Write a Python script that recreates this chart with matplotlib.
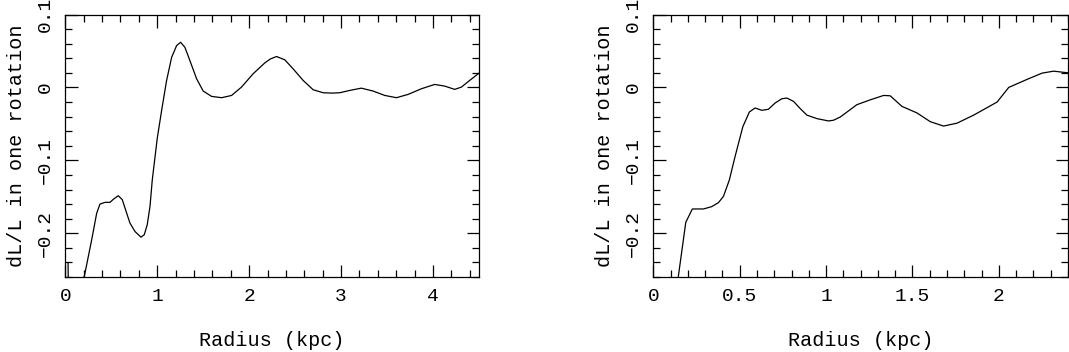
import matplotlib
matplotlib.use("Agg")
import matplotlib.pyplot as plt
from matplotlib.ticker import MultipleLocator, FixedLocator

# Left panel: dL/L vs radius (kpc)
left_r = [0.030, 0.036, 0.207, 0.287, 0.341, 0.377, 0.432, 0.486, 0.522, 0.576, 0.62, 0.656,
          0.703, 0.758, 0.823, 0.859, 0.891, 0.921, 0.946, 1.0, 1.048, 1.102, 1.157, 1.211,
          1.254, 1.301, 1.355, 1.428, 1.5, 1.591, 1.70, 1.809, 1.917, 2.043, 2.17, 2.23, 2.298,
          2.388, 2.478, 2.587, 2.696, 2.804, 2.90, 2.986, 3.095, 3.22, 3.348, 3.475, 3.602,
          3.728, 3.874, 4.018, 4.127, 4.236, 4.308, 4.399, 4.50]
left_dl = [-0.241, -0.30, -0.259, -0.209, -0.1727, -0.160, -0.1576, -0.1576, -0.1535, -0.1485,
           -0.154, -0.168, -0.186, -0.1976, -0.2054, -0.202, -0.1885, -0.1635, -0.127, -0.070,
           -0.0314, 0.0096, 0.0414, 0.0574, 0.0619, 0.055, 0.0369, 0.0119, -0.005, -0.0123,
           -0.0141, -0.011, 0.0005, 0.0187, 0.0336, 0.039, 0.0424, 0.0378, 0.0255, 0.0096,
           -0.0032, -0.0073, -0.0078, -0.0073, -0.0041, -0.001, -0.005, -0.011, -0.0141,
           -0.0096, -0.0018, 0.0041, 0.0018, -0.0027, 0.0004, 0.0096, 0.0196]

# Right panel: dL/L vs radius (kpc)
right_r = [0.145, 0.188, 0.226, 0.29, 0.338, 0.377, 0.406, 0.44, 0.473, 0.518, 0.556, 0.589,
           0.628, 0.666, 0.705, 0.744, 0.773, 0.811, 0.85, 0.889, 0.947, 1.014, 1.043, 1.082,
           1.178, 1.256, 1.333, 1.371, 1.439, 1.526, 1.603, 1.68, 1.758, 1.854, 1.99, 2.057,
           2.163, 2.25, 2.317, 2.40]
right_dl = [-0.259, -0.185, -0.1667, -0.1667, -0.1635, -0.158, -0.1494, -0.127, -0.095, -0.054,
            -0.0337, -0.0282, -0.0314, -0.030, -0.0214, -0.0155, -0.0146, -0.019, -0.029,
            -0.038, -0.0428, -0.046, -0.045, -0.0406, -0.0237, -0.017, -0.011, -0.0115, -0.026,
            -0.035, -0.047, -0.053, -0.049, -0.038, -0.020, 0.0, 0.011, 0.0196, 0.0223, 0.020]

ytick_vals = [-0.2, -0.1, 0, 0.1]
ytick_labels = ["\u22120.2", "\u22120.1", "0", "0.1"]
left_xticks = [0, 1, 2, 3, 4]
left_xlabels = ["0", "1", "2", "3", "4"]
right_xticks = [0, 0.5, 1, 1.5, 2]
right_xlabels = ["0", "0.5", "1", "1.5", "2"]

plt.rcParams['font.family'] = ['Liberation Mono', 'DejaVu Sans Mono']

fig = plt.figure(figsize=(10.69, 3.52), dpi=100)
W, H = 1069, 352
ax1 = fig.add_axes([65.3 / W, 1 - 277 / H, (479 - 65.3) / W, (277 - 14.5) / H])
ax2 = fig.add_axes([653.3 / W, 1 - 277 / H, (1068 - 653.3) / W, (277 - 14.5) / H])

panels = [
    (ax1, left_r, left_dl, (0, 4.5), left_xticks, left_xlabels, 0.2),
    (ax2, right_r, right_dl, (0, 2.4), right_xticks, right_xlabels, 0.1),
]
for ax, xr, yd, xl, xt, xlab, xminor in panels:
    ax.plot(xr, yd, color='black', lw=0.9)
    ax.set_xlim(*xl)
    ax.set_ylim(-0.26, 0.1)
    ax.xaxis.set_major_locator(FixedLocator(xt))
    ax.set_xticklabels(xlab)
    ax.xaxis.set_minor_locator(MultipleLocator(xminor))
    ax.yaxis.set_major_locator(FixedLocator(ytick_vals))
    ax.set_yticklabels(ytick_labels)
    ax.yaxis.set_minor_locator(MultipleLocator(0.02))
    ax.tick_params(which='both', direction='in', top=True, right=True, color='black', width=0.9)
    ax.tick_params(which='major', length=9, labelsize=14, pad=8)
    ax.tick_params(which='minor', length=5)
    ax.tick_params(axis='y', labelrotation=90)
    for lab in ax.get_yticklabels():
        lab.set_va('center')
    for s in ax.spines.values():
        s.set_linewidth(0.9)
    ax.set_xlabel("Radius (kpc)", fontsize=14.5, va='center')
    ax.xaxis.set_label_coords(0.5, -0.24)
    ax.set_ylabel("dL/L in one rotation", fontsize=14.5, va='center')
    ax.yaxis.set_label_coords(-0.117, 0.5)

fig.savefig("out.png", dpi=100)
